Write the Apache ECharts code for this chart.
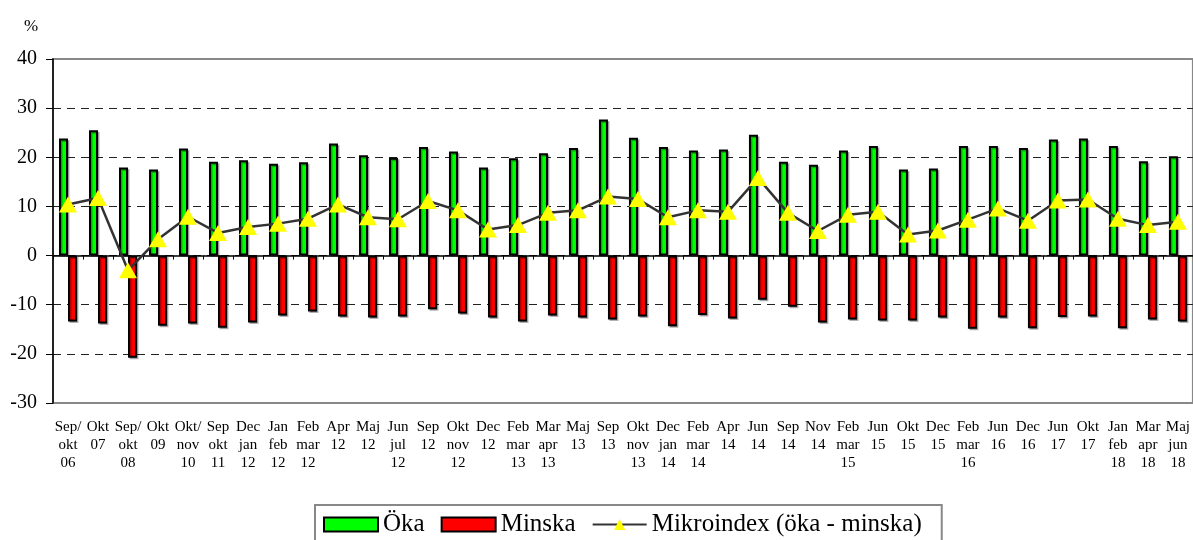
<!DOCTYPE html>
<html>
<head>
    <meta charset="utf-8">
    <title>Mikroindex</title>
    <script src="https://cdn.jsdelivr.net/npm/echarts@6/dist/echarts.min.js"></script>
    <style>
        body { margin: 0; background: #fff; }
    </style>
</head>
<body>
    <div id="chart" style="width: 1193px; height: 540px;"></div>

    <script>
        // kategorier (mätperioder)
        const categories = [
            'Sep/\nokt\n06', 'Okt\n07', 'Sep/\nokt\n08', 'Okt\n09', 'Okt/\nnov\n10', 'Sep\nokt\n11',
            'Dec\njan\n12', 'Jan\nfeb\n12', 'Feb\nmar\n12', 'Apr\n12', 'Maj\n12', 'Jun\njul\n12',
            'Sep\n12', 'Okt\nnov\n12', 'Dec\n12', 'Feb\nmar\n13', 'Mar\napr\n13', 'Maj\n13',
            'Sep\n13', 'Okt\nnov\n13', 'Dec\njan\n14', 'Feb\nmar\n14', 'Apr\n14', 'Jun\n14',
            'Sep\n14', 'Nov\n14', 'Feb\nmar\n15', 'Jun\n15', 'Okt\n15', 'Dec\n15',
            'Feb\nmar\n16', 'Jun\n16', 'Dec\n16', 'Jun\n17', 'Okt\n17', 'Jan\nfeb\n18',
            'Mar\napr\n18', 'Maj\njun\n18'
        ];

        const oka = [
            23.8, 25.5, 17.9, 17.5, 21.8, 19.1, 19.4, 18.7, 19.0, 22.8, 20.4, 19.9,
            22.1, 21.2, 17.9, 19.8, 20.8, 21.9, 27.7, 24.0, 22.1, 21.4, 21.6, 24.6,
            19.1, 18.5, 21.4, 22.3, 17.5, 17.7, 22.3, 22.3, 21.9, 23.6, 23.8, 22.3,
            19.2, 20.2
        ];

        const minska = [
            -13.4, -13.8, -20.8, -14.3, -13.8, -14.7, -13.6, -12.2, -11.4, -12.4, -12.6, -12.4,
            -10.9, -11.8, -12.6, -13.4, -12.2, -12.6, -13.0, -12.4, -14.4, -12.1, -12.8, -9.0,
            -10.4, -13.6, -13.0, -13.2, -13.2, -12.6, -14.9, -12.6, -14.8, -12.5, -12.4, -14.8,
            -13.0, -13.4
        ];

        const mikroindex = [
            10.4, 11.7, -3.0, 3.3, 7.9, 4.6, 5.8, 6.5, 7.5, 10.4, 7.8, 7.4,
            11.1, 9.2, 5.3, 6.2, 8.7, 9.2, 12.0, 11.5, 7.8, 9.2, 8.9, 15.8,
            8.7, 5.0, 8.3, 8.9, 4.3, 5.1, 7.3, 9.6, 7.1, 11.2, 11.4, 7.5,
            6.2, 6.9
        ];

        const serif = '"Liberation Serif", "Times New Roman", serif';

        const chart = echarts.init(document.getElementById('chart'));

        const option = {
            animation: false,
            textStyle: { fontFamily: serif, color: '#000' },
            title: {
                text: '%',
                left: 19,
                top: 13,
                textStyle: { fontFamily: serif, fontSize: 17, fontWeight: 'normal', color: '#000' }
            },
            grid: {
                left: 53,
                right: 0,
                top: 59,
                bottom: 137,
                show: true,
                borderColor: '#888',
                borderWidth: 2
            },
            legend: {
                left: 315,
                top: 505,
                padding: [7, 20, 20, 8],
                borderColor: '#888',
                borderWidth: 2,
                itemWidth: 54,
                itemHeight: 14,
                itemGap: 16,
                textStyle: { fontFamily: serif, fontSize: 25, color: '#000' },
                data: [
                    { name: 'Öka', icon: 'rect' },
                    { name: 'Minska', icon: 'rect' },
                    { name: 'Mikroindex (öka - minska)' }
                ]
            },
            xAxis: [
                {
                    // nollinjen
                    type: 'category',
                    data: categories,
                    position: 'bottom',
                    axisLine: { onZero: true, lineStyle: { color: '#000', width: 1.5 } },
                    axisTick: { show: true, inside: false, length: 4, lineStyle: { color: '#000' } },
                    axisLabel: { show: false }
                },
                {
                    // etiketter längst ner
                    type: 'category',
                    data: categories,
                    position: 'bottom',
                    axisLine: { onZero: false, show: false },
                    axisTick: { show: false },
                    axisLabel: {
                        interval: 0,
                        margin: 15,
                        fontFamily: serif,
                        fontSize: 15,
                        lineHeight: 18,
                        color: '#000'
                    }
                }
            ],
            yAxis: {
                type: 'value',
                min: -30,
                max: 40,
                interval: 10,
                axisLine: { show: true, lineStyle: { color: '#000', width: 1.5 } },
                axisTick: { show: true, length: 7, lineStyle: { color: '#000' } },
                axisLabel: { margin: 16, fontFamily: serif, fontSize: 20, color: '#000' },
                splitLine: {
                    showMinLine: false,
                    showMaxLine: false,
                    lineStyle: { color: '#222', type: [8, 6], width: 1 }
                }
            },
            series: [
                {
                    name: 'Öka',
                    type: 'bar',
                    data: oka,
                    barWidth: 9,
                    barGap: '0%',
                    itemStyle: {
                        color: '#00ff00',
                        borderColor: '#000',
                        borderWidth: 2,
                        shadowColor: 'rgba(0,0,0,0.3)',
                        shadowOffsetX: 1.5,
                        shadowOffsetY: 1.5
                    }
                },
                {
                    name: 'Minska',
                    type: 'bar',
                    data: minska,
                    barWidth: 9,
                    barGap: '0%',
                    itemStyle: {
                        color: '#ff0000',
                        borderColor: '#000',
                        borderWidth: 2,
                        shadowColor: 'rgba(0,0,0,0.3)',
                        shadowOffsetX: 1.5,
                        shadowOffsetY: 1.5
                    }
                },
                {
                    name: 'Mikroindex (öka - minska)',
                    type: 'line',
                    data: mikroindex,
                    symbol: 'triangle',
                    symbolSize: [18, 16],
                    z: 5,
                    lineStyle: { color: '#333', width: 2.5 },
                    itemStyle: { color: '#ffff00', borderWidth: 0 }
                }
            ]
        };

        chart.setOption(option);
    </script>
</body>
</html>
